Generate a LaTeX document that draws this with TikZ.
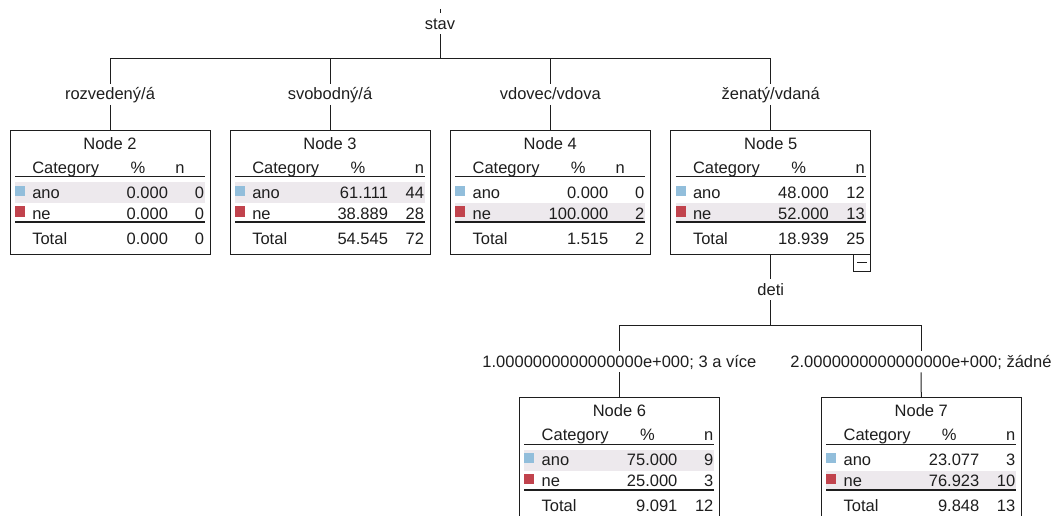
\documentclass[tikz,border=0pt]{standalone}
\usepackage{fontspec}
\setmainfont{Liberation Sans}

\definecolor{ink}{RGB}{30,30,30}
\definecolor{rowband}{RGB}{237,233,237}
\definecolor{anoblue}{RGB}{146,190,219}
\definecolor{nered}{RGB}{193,67,77}

\tikzset{
  every node/.style={font=\fontsize{16.5pt}{19pt}\selectfont, text=ink},
  lbl/.style={inner sep=0pt, outer sep=0pt, text height=16pt, text depth=5pt, anchor=base},
  treebox/.style={draw=ink, line width=1pt, fill=white, minimum width=200pt,
    minimum height=124pt, inner sep=0pt, outer sep=0pt, anchor=north},
  conn/.style={draw=ink, line width=1pt},
  cell/.style={inner sep=0pt, outer sep=0pt},
  hrule/.style={draw=ink, line width=1pt},
  totrule/.style={draw=ink, line width=2pt},
  togglebox/.style={draw=ink, line width=1pt, fill=white, minimum size=17pt,
    inner sep=0pt, outer sep=0pt, anchor=north east}
}

% frame contents of a tree node: #1 node, #2 number, #3 shaded row (1 = ano, 2 = ne),
% #4 placement of the n heading (c = centred, r = right aligned)
\newcommand\treetable[4]{%
  \begin{scope}[shift={(#1.north west)}]
    \ifnum#3=1
      \fill[rowband] (5,52) rectangle (195,73);
    \else
      \fill[rowband] (5,73) rectangle (195,91.5);
    \fi
    \fill[anoblue] (5,55.7) rectangle (15,65.7);
    \fill[nered] (5,76) rectangle (15,86.5);
    \node[cell, anchor=base] at (100,19.3) {Node #2};
    \node[cell, anchor=base west] at (22.3,43.3) {Category};
    \node[cell, anchor=base] at (128,43.3) {\%};
    \if c#4
      \node[cell, anchor=base] at (170,43.3) {n};
    \else
      \node[cell, anchor=base east] at (194,43.3) {n};
    \fi
    \draw[hrule] (5,46.7) -- (195,46.7);
    \node[cell, anchor=base west] at (22.3,68.3) {ano};
    \node[cell, anchor=base west] at (22.3,89.3) {ne};
    \draw[totrule] (5,92.3) -- (195,92.3);
    \node[cell, anchor=base west] at (22.3,114) {Total};
  \end{scope}}

% values of a tree node: #1 node, then % and n for ano, ne and Total
\newcommand\treevals[7]{%
  \begin{scope}[shift={(#1.north west)}]
    \node[cell, anchor=base east] at (158,68.3) {#2};
    \node[cell, anchor=base east] at (194,68.3) {#3};
    \node[cell, anchor=base east] at (158,89.3) {#4};
    \node[cell, anchor=base east] at (194,89.3) {#5};
    \node[cell, anchor=base east] at (158,114) {#6};
    \node[cell, anchor=base east] at (194,114) {#7};
  \end{scope}}

\begin{document}
\begin{tikzpicture}[x=1pt, y=-1pt]
  \path[use as bounding box] (0,0) rectangle (1059,516);
  \clip (0,0) rectangle (1059,516);

  % first split: stav
  \coordinate (up) at (440,9);
  \node[lbl] (stav) at (440,29.3) {stav};
  \coordinate (s1) at (440,58.5);

  \node[lbl] (l2) at (110,100) {rozvedený/á};
  \node[lbl] (l3) at (330,100) {svobodný/á};
  \node[lbl] (l4) at (550.3,100) {vdovec/vdova};
  \node[lbl] (l5) at (770.7,100) {ženatý/vdaná};

  \node[treebox] (n2) at (110,130) {};
  \node[treebox] (n3) at (330,130) {};
  \node[treebox] (n4) at (550.3,130) {};
  \node[treebox] (n5) at (770.7,130) {};

  \draw[conn] (up) -- (stav.north);
  \draw[conn] (stav.south) -- (s1);
  \foreach \k in {2,3,4,5} {
    \draw[conn] (s1) -| (l\k.north);
    \draw[conn] (l\k.south) -- (n\k.north);
  }

  \treetable{n2}{2}{1}{c}
  \treevals{n2}{0.000}{0}{0.000}{0}{0.000}{0}
  \treetable{n3}{3}{1}{r}
  \treevals{n3}{61.111}{44}{38.889}{28}{54.545}{72}
  \treetable{n4}{4}{2}{c}
  \treevals{n4}{0.000}{0}{100.000}{2}{1.515}{2}
  \treetable{n5}{5}{2}{r}
  \treevals{n5}{48.000}{12}{52.000}{13}{18.939}{25}

  % collapse toggle of node 5
  \node[togglebox] (t5) at (n5.south east) {};
  \draw[conn] ([xshift=-5pt]t5.center) -- ([xshift=5pt]t5.center);

  % second split: deti
  \node[lbl] (deti) at (770.7,295) {deti};
  \coordinate (s2) at (770.7,325.7);
  \node[lbl] (l6) at (619.4,367.3) {1.0000000000000000e+000; 3 a více};
  \node[lbl] (l7) at (921,367.3) {2.0000000000000000e+000; žádné};

  \node[treebox] (n6) at (619.4,397.5) {};
  \node[treebox] (n7) at (921.3,397.5) {};

  \draw[conn] (n5.south) -- (deti.north);
  \draw[conn] (deti.south) -- (s2);
  \foreach \k in {6,7} {
    \draw[conn] (s2) -| (l\k.north);
    \draw[conn] (l\k.south) -- (n\k.north);
  }

  \treetable{n6}{6}{1}{r}
  \treevals{n6}{75.000}{9}{25.000}{3}{9.091}{12}
  \treetable{n7}{7}{2}{r}
  \treevals{n7}{23.077}{3}{76.923}{10}{9.848}{13}
\end{tikzpicture}
\end{document}
